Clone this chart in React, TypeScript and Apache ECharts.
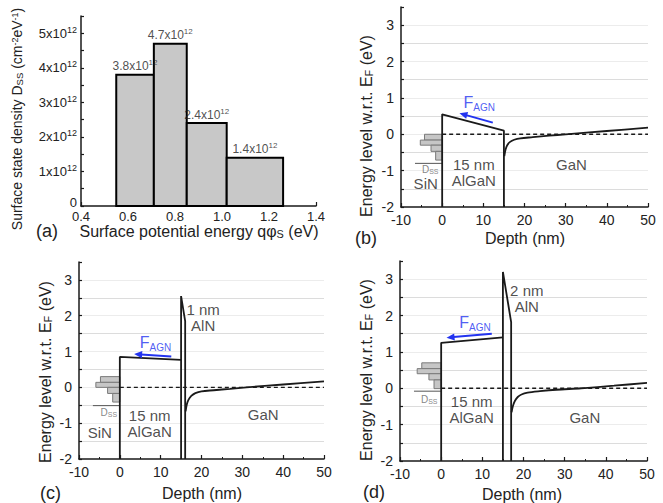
import React, { useEffect, useRef } from 'react';
import * as echarts from 'echarts';

const FONT = "'Liberation Sans', Arial, Helvetica, sans-serif";
const INK = '#1a1a1a';
const TXT = '#222222';
const BLUE = '#2233f0';

// ---------- (a) surface state density histogram ----------
const dssEdges = [0.55, 0.71, 0.85, 1.02, 1.26]; // surface potential energy qφS (eV)
const dssValues = [3.8, 4.7, 2.4, 1.4]; // x10^12 cm^-2 eV^-1
const dssLabels = ['3.8', '4.7', '2.4', '1.4'];

// ---------- (b) 15 nm AlGaN / GaN ----------
const bAlGaN = [[0, -2], [0, 0.55], [15, 0.1], [15, -2]];
const bGaN = [[15.1, -0.6], [15.4, -0.42], [15.8, -0.3], [16.5, -0.21], [17.5, -0.15], [19, -0.11], [22, -0.08], [26, -0.04], [30, 0], [40, 0.09], [50, 0.18]];

// ---------- (c) 15 nm AlGaN / 1 nm AlN / GaN ----------
const cAlGaN = [[0, -2], [0, 0.85], [15, 0.77]];
const cAlN = [[15, -2], [15, 2.55], [16, 1.85], [16, -2]];
const cGaN = [[16.1, -0.67], [16.4, -0.48], [16.8, -0.35], [17.5, -0.24], [18.5, -0.16], [20, -0.11], [23, -0.08], [27, -0.04], [31, 0], [40, 0.08], [50, 0.17]];

// ---------- (d) 15 nm AlGaN / 2 nm AlN / GaN ----------
const dAlGaN = [[0, -2], [0, 1.25], [15, 1.4]];
const dAlN = [[15, -2], [15, 3.2], [17, 1.82], [17, -2]];
const dGaN = [[17.1, -0.66], [17.4, -0.5], [17.9, -0.35], [18.6, -0.24], [19.5, -0.17], [21, -0.12], [24, -0.08], [28, -0.04], [34, 0], [42, 0.07], [50, 0.15]];

const fermiLevel = [[0, 0], [50, 0]];
const surfaceEc = [0.55, 0.85, 1.25]; // Ec at AlGaN surface in (b), (c), (d)
const dssWidthScale = [1.13, 1.25, 1.24]; // nm of drawing per 10^12 in (b), (c), (d)
const fArrows = [
  [12.3, 0.32, 4.2, 0.58],
  [12.6, 0.86, 3.5, 0.93],
  [12.3, 1.5, 1.3, 1.39],
];

const bandData = [
  { alGaN: bAlGaN, alN: null as number[][] | null, gaN: bGaN },
  { alGaN: cAlGaN, alN: cAlN, gaN: cGaN },
  { alGaN: dAlGaN, alN: dAlN, gaN: dGaN },
];

// annotation placement (data coordinates of each band panel)
const annot = [
  { f: [5.2, 0.87], layer: [7.7, -1.06], sin: [-4.0, -1.34] as number[] | null, gan: [31.4, -0.82], dss: [-2.9, -0.96], dssLineY: -0.8, ec: [50.6, 0.28], ef: [50.6, -0.1], aln: null as any },
  { f: [4.9, 1.24], layer: [7.3, -1.0], sin: [-4.9, -1.25], gan: [35.1, -0.75], dss: [-2.7, -0.7], dssLineY: -0.51, ec: [50.3, 0.33], ef: [50.3, -0.07], aln: { at: [20.4, 1.95], text: '1 nm\nAlN' } },
  { f: [4.4, 1.82], layer: [7.4, -0.57], sin: null, gan: [34.9, -0.8], dss: [-2.9, -0.3], dssLineY: -0.08, ec: [50.4, 0.3], ef: [50.4, -0.06], aln: { at: [20.8, 2.47], text: '2 nm\nAlN' } },
];

const LABEL_RICH = {
  e: { fontSize: 15, fontFamily: FONT, color: TXT, lineHeight: 18 },
  s: { fontSize: 10, fontFamily: FONT, color: TXT, lineHeight: 10, verticalAlign: 'bottom' },
  f: { fontSize: 16, fontFamily: FONT, color: BLUE, lineHeight: 20 },
  fs: { fontSize: 10, fontFamily: FONT, color: BLUE, lineHeight: 10, verticalAlign: 'bottom' },
  d: { fontSize: 10, fontFamily: FONT, color: '#666', lineHeight: 11 },
  ds: { fontSize: 7, fontFamily: FONT, color: '#666', lineHeight: 7, verticalAlign: 'bottom' },
  m: { fontSize: 12, fontFamily: FONT, color: TXT, lineHeight: 15 },
  p: { fontSize: 8, fontFamily: FONT, color: TXT, lineHeight: 8, verticalAlign: 'top' },
};

function textSeries(gi: number, items: { at: number[]; text: string; pos?: string; size?: number }[]) {
  return {
    type: 'scatter',
    xAxisIndex: gi,
    yAxisIndex: gi,
    symbolSize: 0,
    silent: true,
    z: 6,
    data: items.map((it) => ({
      value: it.at,
      label: {
        show: true,
        position: it.pos || 'inside',
        distance: 0,
        formatter: it.text,
        color: TXT,
        fontSize: it.size || 15,
        fontFamily: FONT,
        lineHeight: 16,
        rich: LABEL_RICH,
      },
    })),
  };
}

function bandXAxis(gi: number) {
  return {
    type: 'value',
    gridIndex: gi,
    min: -10,
    max: 50,
    interval: 10,
    axisLine: { show: true, onZero: false, lineStyle: { color: INK, width: 1.5 } },
    axisTick: { show: true, inside: true, length: 4, lineStyle: { color: INK, width: 1.2 } },
    minorTick: { show: true, splitNumber: 2, length: 2, lineStyle: { color: INK, width: 1 } },
    splitLine: { show: false },
    axisLabel: { color: TXT, fontSize: 14, lineHeight: 15, fontFamily: FONT, margin: 5 },
  };
}

function bandYAxis(gi: number) {
  return {
    type: 'value',
    gridIndex: gi,
    min: -2,
    max: 3.5,
    interval: 0.5,
    axisLine: { show: true, onZero: false, lineStyle: { color: INK, width: 1.5 } },
    axisTick: { show: true, inside: true, length: 3, lineStyle: { color: INK, width: 1.2 } },
    splitLine: { show: true, showMinLine: false, showMaxLine: false, lineStyle: { color: ['#dcdcdc', '#ececec'], width: 1 } },
    axisLabel: {
      color: TXT,
      fontSize: 14,
      fontFamily: FONT,
      margin: 7,
      formatter: (v: number) => (Math.abs(v - Math.round(v)) < 1e-9 ? String(Math.round(v)) : ''),
    },
  };
}

function gText(x: number, y: number, text: string, size: number, align: string, rot = 0) {
  return {
    type: 'text',
    x,
    y,
    rotation: rot,
    silent: true,
    style: {
      text,
      fill: TXT,
      font: `${size}px ${FONT}`,
      fontSize: size,
      fontFamily: FONT,
      lineHeight: size,
      align,
      verticalAlign: 'middle',
      rich: {
        s: { fontSize: size * 0.68, fontFamily: FONT, fill: TXT, verticalAlign: 'bottom' },
        p: { fontSize: size * 0.64, fontFamily: FONT, fill: TXT, verticalAlign: 'top' },
      },
    },
  };
}

export default function App() {
  const ref = useRef<HTMLDivElement>(null);
  useEffect(() => {
    if (!ref.current) return;
    const chart = echarts.init(ref.current, undefined, { renderer: 'svg' });

    const series: any[] = [];

    // (a) bars
    series.push({
      type: 'custom',
      xAxisIndex: 0,
      yAxisIndex: 0,
      z: 2,
      silent: true,
      data: dssValues.map((v, i) => [dssEdges[i], dssEdges[i + 1], v]),
      encode: { x: [0, 1], y: 2 },
      renderItem: (_p: any, api: any) => {
        const a = api.coord([api.value(0), api.value(2)]);
        const b = api.coord([api.value(1), 0]);
        return {
          type: 'rect',
          shape: { x: a[0], y: a[1], width: b[0] - a[0], height: b[1] - a[1] },
          style: { fill: '#c8c8c8', stroke: '#000', lineWidth: 2 },
        };
      },
    });
    series.push({
      type: 'scatter',
      xAxisIndex: 0,
      yAxisIndex: 0,
      symbolSize: 0,
      silent: true,
      z: 5,
      data: dssValues.map((v, i) => ({
        value: [(dssEdges[i] + dssEdges[i + 1]) / 2, v],
        label: {
          show: true,
          position: 'top',
          distance: 1,
          formatter: `{m|${dssLabels[i]}x10}{p|12}`,
          rich: LABEL_RICH,
        },
      })),
    });

    // band diagrams
    bandData.forEach((bd, k) => {
      const gi = k + 1;
      const an = annot[k];
      const lineBase = { type: 'line', xAxisIndex: gi, yAxisIndex: gi, symbol: 'none', silent: true, z: 4 };
      series.push({ ...lineBase, data: bd.alGaN, lineStyle: { color: INK, width: 1.8 } });
      if (bd.alN) series.push({ ...lineBase, data: bd.alN, lineStyle: { color: INK, width: 1.8 } });
      series.push({ ...lineBase, data: bd.gaN, smooth: 0.3, lineStyle: { color: INK, width: 1.8 } });
      series.push({ ...lineBase, data: fermiLevel, z: 3, lineStyle: { color: INK, width: 1.4, type: [4, 3] } });

      // F_AGN arrow
      series.push({
        type: 'custom',
        xAxisIndex: gi,
        yAxisIndex: gi,
        z: 5,
        silent: true,
        data: [fArrows[k]],
        encode: { x: [0, 2], y: [1, 3] },
        renderItem: (_p: any, api: any) => {
          const a = api.coord([api.value(0), api.value(1)]);
          const b = api.coord([api.value(2), api.value(3)]);
          const dx = b[0] - a[0];
          const dy = b[1] - a[1];
          const len = Math.hypot(dx, dy) || 1;
          const ux = dx / len;
          const uy = dy / len;
          const hl = 8;
          const hw = 3.6;
          const base = [b[0] - ux * hl, b[1] - uy * hl];
          return {
            type: 'group',
            children: [
              { type: 'line', shape: { x1: a[0], y1: a[1], x2: base[0] + ux, y2: base[1] + uy }, style: { stroke: BLUE, lineWidth: 2 } },
              {
                type: 'polygon',
                shape: { points: [b, [base[0] - uy * hw, base[1] + ux * hw], [base[0] + uy * hw, base[1] - ux * hw]] },
                style: { fill: BLUE },
              },
            ],
          };
        },
      });

      // Dss histogram (rotated) at the SiN/AlGaN interface
      const ecS = surfaceEc[k];
      const sc = dssWidthScale[k];
      series.push({
        type: 'custom',
        xAxisIndex: gi,
        yAxisIndex: gi,
        z: 2,
        silent: true,
        data: dssValues.map((v, i) => [-v * sc, 0, ecS - dssEdges[i], ecS - dssEdges[i + 1]]),
        encode: { x: [0, 1], y: [2, 3] },
        renderItem: (_p: any, api: any) => {
          const a = api.coord([api.value(0), api.value(2)]);
          const b = api.coord([api.value(1), api.value(3)]);
          return {
            type: 'rect',
            shape: { x: a[0], y: a[1], width: b[0] - a[0], height: b[1] - a[1] },
            style: { fill: '#c6c6c6', stroke: '#7a7a7a', lineWidth: 1 },
          };
        },
      });
      series.push({ ...lineBase, z: 2, data: [[-6.6, an.dssLineY], [0, an.dssLineY]], lineStyle: { color: '#555', width: 1 } });

      const items: any[] = [
        { at: an.f, text: '{f|F}{fs|AGN}', pos: 'right' },
        { at: an.layer, text: '15 nm\nAlGaN' },
        { at: an.gan, text: 'GaN' },
        { at: an.dss, text: '{d|D}{ds|SS}' },
        { at: an.ec, text: '{e|E}{s|C}', pos: 'right' },
        { at: an.ef, text: '{e|E}{s|F}', pos: 'right' },
      ];
      if (an.sin) items.push({ at: an.sin, text: 'SiN' });
      if (an.aln) items.push({ at: an.aln.at, text: an.aln.text });
      series.push(textSeries(gi, items));
    });

    const yName = 'Energy level w.r.t. E{s|F} (eV)';
    const option: any = {
      animation: false,
      backgroundColor: '#ffffff',
      grid: [
        { left: 81, top: 16, width: 235, height: 190 },
        { left: 401, top: 7, width: 247, height: 200 },
        { left: 79, top: 262, width: 245, height: 197 },
        { left: 400, top: 261, width: 247, height: 200 },
      ],
      xAxis: [
        {
          type: 'value',
          gridIndex: 0,
          min: 0.4,
          max: 1.4,
          interval: 0.2,
          axisLine: { show: true, onZero: false, lineStyle: { color: INK, width: 1.5 } },
          axisTick: { show: true, inside: true, length: 4, lineStyle: { color: INK, width: 1.2 } },
          splitLine: { show: false },
          axisLabel: { color: TXT, fontSize: 13, lineHeight: 14, fontFamily: FONT, margin: 3, formatter: (v: number) => v.toFixed(1) },
        },
        bandXAxis(1),
        bandXAxis(2),
        bandXAxis(3),
      ],
      yAxis: [
        {
          type: 'value',
          gridIndex: 0,
          min: 0,
          max: 5.5,
          interval: 0.5,
          axisLine: { show: true, onZero: false, lineStyle: { color: INK, width: 1.5 } },
          axisTick: { show: true, inside: true, length: 3, lineStyle: { color: INK, width: 1.2 } },
          splitLine: { show: false },
          axisLabel: {
            color: TXT,
            fontSize: 13,
            lineHeight: 12,
            fontFamily: FONT,
            margin: 4,
            formatter: (v: number) => {
              if (Math.abs(v) < 1e-9) return '{z|0}';
              if (Math.abs(v - Math.round(v)) > 1e-9) return '';
              return `{m|${Math.round(v)}x10}{p|12}`;
            },
            rich: {
              z: { fontSize: 13, fontFamily: FONT, color: TXT, padding: [0, 0, 8, 0] },
              m: { fontSize: 13, fontFamily: FONT, color: TXT, lineHeight: 16 },
              p: { fontSize: 9, fontFamily: FONT, color: TXT, lineHeight: 9, verticalAlign: 'top' },
            },
          },
        },
        bandYAxis(1),
        bandYAxis(2),
        bandYAxis(3),
      ],
      series,
      graphic: [
        gText(17, 119, 'Surface state density D{s|SS} (cm{p|-2}eV{p|-1})', 14, 'center', Math.PI / 2),
        gText(36, 231, '(a)', 18, 'left'),
        gText(199, 231, 'Surface potential energy qφ{s|S} (eV)', 16, 'center'),
        gText(366, 126, yName, 16, 'center', Math.PI / 2),
        gText(355, 238, '(b)', 18, 'left'),
        gText(525, 238, 'Depth (nm)', 16, 'center'),
        gText(45, 372, yName, 16, 'center', Math.PI / 2),
        gText(40, 493, '(c)', 18, 'left'),
        gText(202, 493, 'Depth (nm)', 16, 'center'),
        gText(366, 370, yName, 16, 'center', Math.PI / 2),
        gText(363, 492, '(d)', 18, 'left'),
        gText(522, 494, 'Depth (nm)', 16, 'center'),
      ],
    };
    chart.setOption(option);
    return () => chart.dispose();
  }, []);
  return (
    <div
      ref={ref}
      style={{ position: 'fixed', left: 0, top: 0, width: 663, height: 503, background: '#fff' }}
    />
  );
}
